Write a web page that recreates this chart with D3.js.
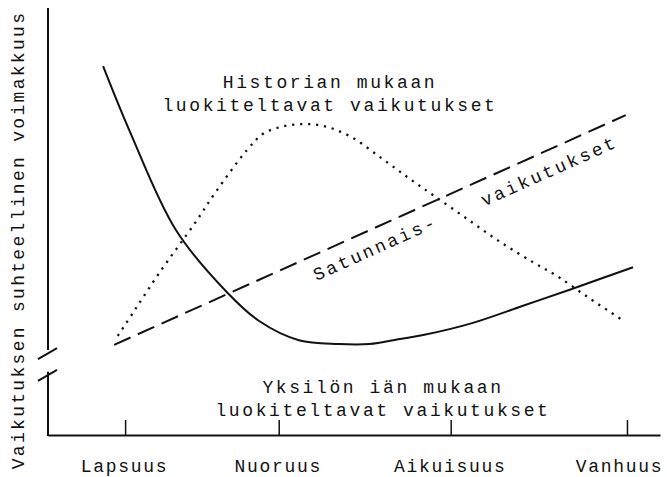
<!DOCTYPE html>
<html><head><meta charset="utf-8">
<script src="https://cdn.jsdelivr.net/npm/d3@7"></script>
<style>
body{margin:0;background:#fff;}
text{font-family:"Liberation Mono","DejaVu Sans Mono",monospace;fill:#111;}
</style></head>
<body><svg id="c" width="667" height="477"></svg>
<script>
// Life stages (x tick labels) and their position on the age axis (0-100)
const stages = ["Lapsuus", "Nuoruus", "Aikuisuus", "Vanhuus"];
const stageAge = [12.6, 37.7, 65.8, 94.6];

// Age-graded influences (solid) : [age, strength]
const ageAge   = [9.0, 13.4, 20.9, 29.2, 34.5, 41.0, 47.5, 52.5, 57.5, 61.3, 69.3, 77.5, 85.6, 95.6];
const ageVal   = [86.4, 71.0, 48.0, 33.5, 26.7, 22.2, 21.3, 21.3, 22.5, 23.4, 26.2, 30.2, 34.2, 39.3];

// History-graded influences (dotted)
const histAge  = [11.4, 14.2, 18.3, 24.0, 27.3, 32.5, 35.1, 37.9, 41.2, 44.9, 49.3, 54.7, 59.2, 63.2, 68.5, 73.9, 79.2, 83.2, 88.6, 94.3];
const histVal  = [23.2, 29.3, 38.2, 49.6, 56.7, 66.7, 70.5, 72.1, 72.8, 72.4, 70.0, 64.6, 59.9, 55.9, 50.6, 45.2, 40.5, 37.2, 31.9, 26.5];

// Non-normative (random) influences (dashed)
const randAge  = [10.8, 94.4];
const randVal  = [21.1, 74.9];

const svg = d3.select("#c");
const x = d3.scaleLinear().domain([0, 100]).range([48, 660]);
const y = d3.scaleLinear().domain([0, 100]).range([435, 8]);

const line = d3.line().x(d => x(d[0])).y(d => y(d[1])).curve(d3.curveCatmullRom.alpha(0.5));

svg.append("path").datum(ageAge.map((a,i)=>[a, ageVal[i]]))
  .attr("d", line).attr("fill","none").attr("stroke","#111").attr("stroke-width",2);
svg.append("path").datum(histAge.map((a,i)=>[a, histVal[i]]))
  .attr("d", line).attr("fill","none").attr("stroke","#111").attr("stroke-width",2.3)
  .attr("stroke-dasharray","2.2,5.8");
svg.append("path").datum(randAge.map((a,i)=>[a, randVal[i]]))
  .attr("d", d3.line().x(d=>x(d[0])).y(d=>y(d[1])))
  .attr("fill","none").attr("stroke","#111").attr("stroke-width",2)
  .attr("stroke-dasharray","18,8");

// X axis
const xAxis = d3.axisBottom(x).tickValues(stageAge)
  .tickFormat((d,i)=>stages[i]).tickSizeInner(-15).tickSizeOuter(0).tickPadding(24);
const gx = svg.append("g").attr("transform", `translate(0,${y(0)})`).call(xAxis);
gx.select(".domain").attr("stroke","#111").attr("stroke-width",2);
gx.selectAll(".tick line").attr("stroke","#111").attr("stroke-width",1.5);
gx.selectAll(".tick text").style("font-size","18px").style("letter-spacing","1.7px")
  .attr("fill","#111").attr("dx",(d,i)=> i===stages.length-1 ? -8 : -1);

// Y axis with a break
const x0 = x(0);
const breakHi = 19.9, breakLo = 14.8;
svg.append("line").attr("x1",x0).attr("x2",x0).attr("y1",y(100)).attr("y2",y(breakHi))
  .attr("stroke","#111").attr("stroke-width",2);
svg.append("line").attr("x1",x0).attr("x2",x0).attr("y1",y(breakLo)).attr("y2",y(0)+1)
  .attr("stroke","#111").attr("stroke-width",2);
[breakHi, breakLo].forEach(v=>{
  svg.append("line").attr("x1",x0-10).attr("y1",y(v)+9).attr("x2",x0+9).attr("y2",y(v)-2)
    .attr("stroke","#111").attr("stroke-width",2);
});

svg.append("text").attr("transform",`translate(24,240) rotate(-90)`)
  .attr("text-anchor","middle").style("font-size","18px").style("letter-spacing","2.3px")
  .text("Vaikutuksen suhteellinen voimakkuus");

// Annotations
function label(lines, cx, cy){
  const t = svg.append("text").attr("text-anchor","middle").style("font-size","18px").style("letter-spacing","2.6px");
  lines.forEach((s,i)=>t.append("tspan").attr("x",cx).attr("y",cy+i*23).text(s));
}
label(["Historian mukaan","luokiteltavat vaikutukset"], 330, 88);
label(["Yksilön iän mukaan","luokiteltavat vaikutukset"], 383, 393);

const ang = Math.atan2(y(randVal[1])-y(randVal[0]), x(randAge[1])-x(randAge[0]))*180/Math.PI;
function along(txt, px, off){
  const t0 = (x.invert(px)-randAge[0])/(randAge[1]-randAge[0]);
  const py = y(randVal[0] + t0*(randVal[1]-randVal[0])) + off;
  svg.append("text").attr("transform",`translate(${px},${py}) rotate(${ang})`)
    .attr("text-anchor","middle").attr("dy","0.35em")
    .style("font-size","18px").style("letter-spacing","2.6px").text(txt);
}
along("Satunnais-", 375, 20);
along("vaikutukset", 549, 21);
</script></body></html>
